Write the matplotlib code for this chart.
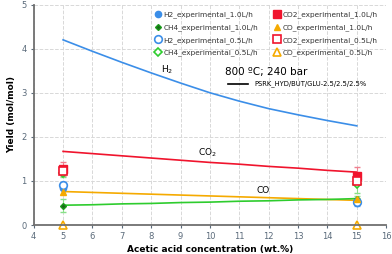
import matplotlib.pyplot as plt

# ---------------- data ----------------
conc = [5, 15]
# experimental, 1.0 L/h
h2_10 = [0.85, 0.50]
ch4_10 = [0.44, 0.60]
co2_10 = [1.27, 1.12]
co_10 = [0.75, 0.58]
# experimental, 0.5 L/h
h2_05 = [0.90, 0.52]
ch4_05 = [1.17, 0.93]
co2_05 = [1.22, 1.00]
co_05 = [0.0, 0.0]
# error bars
ch4_10_err = [0.15, 0.06]
co2_10_err = [0.15, 0.20]
h2_05_err = [0.08, 0.08]
ch4_05_err = [0.08, 0.20]

# PSRK model curves
x_model = [5, 6, 7, 8, 9, 10, 11, 12, 13, 14, 15]
h2_model = [4.20, 3.94, 3.69, 3.45, 3.22, 3.00, 2.81, 2.64, 2.50, 2.37, 2.25]
co2_model = [1.67, 1.62, 1.57, 1.52, 1.47, 1.42, 1.38, 1.33, 1.29, 1.24, 1.20]
co_model = [0.76, 0.74, 0.72, 0.70, 0.68, 0.66, 0.64, 0.62, 0.60, 0.58, 0.56]
ch4_model = [0.45, 0.46, 0.48, 0.49, 0.51, 0.52, 0.54, 0.55, 0.57, 0.58, 0.60]

c_h2 = '#3b8ee8'
c_co2 = '#f0142d'
c_ch4 = '#2ecc2e'
c_co = '#f5aa00'

fig = plt.figure(figsize=(3.92, 2.54), dpi=100)
ax = fig.add_axes([0.086, 0.114, 0.899, 0.868])

# model lines
ax.plot(x_model, h2_model, color=c_h2, lw=1.2)
ax.plot(x_model, co2_model, color=c_co2, lw=1.2)
ax.plot(x_model, co_model, color=c_co, lw=1.2)
ax.plot(x_model, ch4_model, color=c_ch4, lw=1.2)

# error bars
ax.errorbar(conc, ch4_10, yerr=ch4_10_err, fmt='none', ecolor='#88e088', elinewidth=0.8, capsize=2)
ax.errorbar(conc, co2_10, yerr=co2_10_err, fmt='none', ecolor='#f08090', elinewidth=0.8, capsize=2)
ax.errorbar(conc, h2_05, yerr=h2_05_err, fmt='none', ecolor='#90b8f0', elinewidth=0.8, capsize=2)
ax.errorbar(conc, ch4_05, yerr=ch4_05_err, fmt='none', ecolor='#88e088', elinewidth=0.8, capsize=2)

# experimental points
ms = 4.5
ax.plot(conc, h2_10, 'o', color=c_h2, ms=ms, ls='none', label='H2_experimental_1.0L/h')
ax.plot(conc, ch4_10, 'D', color='#1a9a1a', mfc='#1a6a1a', ms=3, ls='none', label='CH4_experimental_1.0L/h')
ax.plot(conc, h2_05, 'o', color=c_h2, mfc='white', mew=1.2, ms=ms + 1, ls='none', label='H2_experimental_0.5L/h')
ax.plot(conc, ch4_05, 'D', color=c_ch4, mfc='white', mew=1.2, ms=ms, ls='none', label='CH4_experimental_0.5L/h')
ax.plot(conc, co2_10, 's', color=c_co2, ms=ms + 1, ls='none', label='CO2_experimental_1.0L/h')
ax.plot(conc, co_10, '^', color=c_co, ms=ms, ls='none', label='CO_experimental_1.0L/h')
ax.plot(conc, co2_05, 's', color=c_co2, mfc='white', mew=1.2, ms=ms + 1, ls='none', label='CO2_experimental_0.5L/h')
ax.plot(conc, co_05, '^', color=c_co, mfc='white', mew=1.2, ms=ms + 1, ls='none', label='CO_experimental_0.5L/h', clip_on=False)

leg = ax.legend(loc='upper right', ncol=2, fontsize=5.3, frameon=False, handletextpad=0.1,
                columnspacing=2.0, labelspacing=0.8, handlelength=1.2,
                bbox_to_anchor=(0.995, 1.0), labelcolor='#333333')

# annotations
ax.text(8.35, 3.45, 'H$_2$', fontsize=6.5)
ax.text(9.6, 1.58, 'CO$_2$', fontsize=6.5)
ax.text(11.6, 0.72, 'CO', fontsize=6.5)
ax.text(10.5, 3.4, '800 ºC; 240 bar', fontsize=7.5)
ax.plot([10.6, 11.3], [3.2, 3.2], color='black', lw=1.2)
ax.text(11.5, 3.2, 'PSRK_HYD/BUT/GLU-2.5/2.5/2.5%', fontsize=4.9, va='center')

# axes styling
ax.set_xlim(4, 16)
ax.set_ylim(0, 5)
ax.set_xticks(range(4, 17))
ax.set_yticks(range(0, 6))
ax.grid(True, ls='--', color='#d8d8d8', lw=0.7)
ax.set_axisbelow(True)
for s in ['top', 'right']:
    ax.spines[s].set_visible(False)
for s in ['left', 'bottom']:
    ax.spines[s].set_color('#707070')
    ax.spines[s].set_linewidth(1.3)
ax.tick_params(labelsize=6, colors='#5a6a7a', length=2, pad=3)
ax.set_xlabel('Acetic acid concentration (wt.%)', fontsize=6.5, fontweight='bold', labelpad=3)
ax.set_ylabel('Yield (mol/mol)', fontsize=6.5, fontweight='bold', labelpad=4)

fig.savefig('out.png', dpi=100)
